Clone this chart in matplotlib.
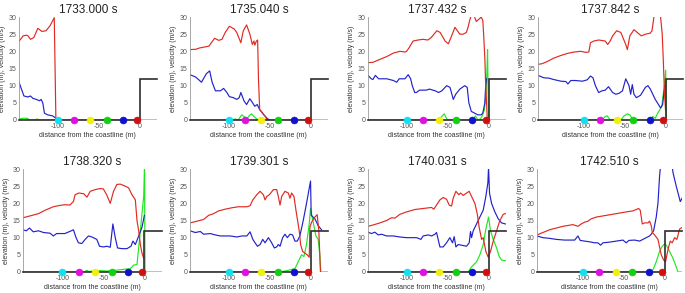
import matplotlib
matplotlib.use('Agg')
import matplotlib.pyplot as plt

plt.rcParams['font.family'] = ['Liberation Sans', 'DejaVu Sans']
plt.rcParams['axes.unicode_minus'] = False

# snapshot times (s)
times = ['1733.000 s', '1735.040 s', '1737.432 s', '1737.842 s',
         '1738.320 s', '1739.301 s', '1740.031 s', '1742.510 s']

# gauge positions along the profile (m) and their colours
gauge_x = [-100, -80, -60, -40, -20, -3]
gauge_colours = ['#10e0f0', '#e010e0', '#f0f010', '#10d010', '#1010d0', '#d01010']

# coastal profile (m): flat sea bed, then a 12 m wall at the coastline
wall_x = [0, 0, 21]
wall_y = [0, 12, 12]

# red, blue and green curves for each snapshot, as (distance, value) pairs
red_1 = [(-147, 22.9), (-142, 24.5), (-138, 24.7), (-136, 24.5), (-133, 23.5), (-129, 24.0),
         (-124, 26.7), (-119, 25.8), (-114, 26.0), (-109, 27.5), (-104, 29.8), (-103, 15.0),
         (-102, 0.0)]
blue_1 = [(-147, 11.0), (-141, 7.0), (-136, 6.7), (-133, 7.0), (-130, 6.3), (-126, 6.0),
          (-122, 5.6), (-120, 6.0), (-118, 5.0), (-116, 2.0), (-112, 1.5), (-106, 1.2),
          (-102, 0.5), (-100, 0.0)]
green_1 = [(-147, 0.3), (-143, 0.5), (-137, 0.5), (-134, 0.0), (-128, 0.0), (-125, 0.3),
           (-122, 0.0), (-100, 0.0), (21, 0.0)]

red_2 = [(-147, 20.5), (-140, 20.6), (-135, 21.0), (-124, 21.5), (-117, 23.8), (-112, 23.2),
         (-108, 23.5), (-104, 25.5), (-99, 27.3), (-93, 26.5), (-90, 25.5), (-85, 22.5),
         (-82, 26.0), (-78, 27.7), (-74, 25.0), (-71, 22.0), (-69, 23.0), (-68, 21.8),
         (-66, 23.0), (-64.5, 23.3), (-63.5, 12.0), (-62, 3.0), (-55, 1.0), (-53, 0.0)]
blue_2 = [(-147, 13.2), (-140, 12.5), (-133, 11.0), (-127, 13.5), (-123, 14.3), (-120, 11.0),
          (-116, 8.5), (-110, 8.5), (-106, 9.2), (-102, 8.0), (-99, 6.8), (-94, 6.5),
          (-90, 6.0), (-87, 6.5), (-85, 8.0), (-81, 5.5), (-78, 4.5), (-74, 6.2), (-72, 5.5),
          (-68, 4.0), (-65, 4.5), (-62, 3.0), (-60, 2.5), (-57, 1.5), (-53, 0.5), (-50, 0.0)]
green_2 = [(-147, 0.0), (-94, 0.0), (-92, 0.3), (-88, 0.0), (-86, 0.8), (-84, 1.5),
           (-81, 1.0), (-78, 0.3), (-75, 1.2), (-72, 1.8), (-69, 1.0), (-65, 0.2),
           (-62, 0.0), (21, 0.0)]

red_3 = [(-147, 16.7), (-141, 16.8), (-134, 17.5), (-124, 18.5), (-116, 19.5), (-108, 20.0),
         (-102, 19.8), (-100, 20.0), (-97, 21.0), (-92, 23.0), (-86, 23.3), (-80, 23.5),
         (-74, 23.3), (-70, 24.0), (-63, 26.0), (-59, 25.5), (-53, 23.0), (-49, 22.2),
         (-45, 24.5), (-41, 27.0), (-38, 26.0), (-35, 25.0), (-31, 25.0), (-27, 25.5),
         (-25, 27.0), (-23, 29.0), (-21, 30.5), (-19, 31.0), (-17, 30.0), (-15, 28.7),
         (-11, 29.5), (-9, 30.0), (-7, 29.0), (-6, 25.0), (-4.5, 18.0), (-3.5, 10.0),
         (-2.4, 5.0), (-1.5, 0.0)]
blue_3 = [(-147, 13.0), (-143, 12.0), (-141, 11.8), (-138, 13.0), (-134, 12.0), (-124, 12.0),
          (-116, 11.5), (-112, 11.0), (-109, 12.0), (-102, 12.0), (-98, 13.2), (-95, 12.0),
          (-93, 10.0), (-90, 8.0), (-88, 8.0), (-84, 8.7), (-76, 8.7), (-72, 9.0), (-65, 8.5),
          (-61, 8.0), (-57, 8.5), (-51, 10.0), (-47, 9.5), (-43, 6.0), (-40, 7.5), (-35, 9.0),
          (-29, 10.0), (-26, 9.5), (-24, 5.0), (-21, 2.5), (-17, 2.0), (-13, 1.5), (-9, 1.5),
          (-7, 2.0), (-4.5, 5.0), (-3.5, 10.0), (-2.5, 12.0)]
green_3 = [(-147, 0.0), (-63, 0.0), (-58, 0.8), (-54, 1.8), (-52, 0.8), (-50, 0.0),
           (-19, 0.0), (-16, 1.2), (-13, 0.0), (-10, 0.3), (-8, 1.0), (-5, 3.0), (-3, 8.0),
           (-1.8, 15.0), (-1.2, 20.5), (-0.5, 8.0), (0.2, 0.0), (21, 0.0)]

red_4 = [(-156, 16.2), (-151, 16.4), (-145, 17.0), (-137, 18.0), (-128, 18.8), (-120, 19.4),
         (-112, 19.8), (-104, 20.0), (-98, 19.7), (-94, 19.8), (-92, 22.5), (-88, 23.0),
         (-82, 23.3), (-74, 23.0), (-71, 22.0), (-68, 23.0), (-65, 24.5), (-60, 26.0),
         (-55, 25.5), (-49, 22.0), (-47, 20.5), (-44, 24.5), (-39, 26.3), (-35, 25.5),
         (-30, 24.5), (-25, 25.0), (-19, 25.3), (-17, 26.0), (-14.6, 30.0), (-12.6, 31.0),
         (-8, 31.0), (-6.5, 30.0), (-4.5, 25.0), (-3.3, 18.0), (-2.4, 12.0), (-1.5, 7.0),
         (-0.5, 3.0)]
blue_4 = [(-156, 13.0), (-149, 12.3), (-143, 12.2), (-137, 11.8), (-128, 11.3), (-122, 11.2),
          (-119.5, 10.5), (-116, 11.5), (-110, 11.5), (-102, 11.3), (-96, 11.7), (-92, 12.8),
          (-89, 12.3), (-86, 10.0), (-82, 8.0), (-78, 8.5), (-74, 8.7), (-70, 9.7), (-65, 8.0),
          (-61, 7.5), (-57, 7.8), (-53, 8.5), (-49, 12.0), (-45, 10.0), (-43, 7.5),
          (-41, 10.3), (-39, 7.5), (-36, 6.5), (-31, 7.2), (-25, 9.5), (-22, 10.0), (-19, 9.0),
          (-13, 6.0), (-6.5, 3.5), (-4, 4.5), (-2.4, 8.0), (-1.2, 10.0)]
green_4 = [(-156, 0.0), (-78, 0.0), (-74, 1.0), (-71.5, 1.2), (-68, 0.0), (-55, 0.0),
           (-51, 1.2), (-47, 1.8), (-44, 1.5), (-40, 0.0), (-19, 0.0), (-16, 1.0), (-13, 0.5),
           (-10, 2.0), (-5, 4.0), (-2, 10.0), (-0.3, 14.5), (0.5, 0.0), (21, 0.0)]

red_5 = [(-148, 15.8), (-140, 16.3), (-129, 17.0), (-121, 18.0), (-111, 19.0), (-103, 19.4),
         (-97, 19.6), (-91, 19.5), (-86.5, 20.5), (-84.5, 22.5), (-80, 23.0), (-74, 22.8),
         (-70, 21.8), (-66, 23.5), (-60, 24.0), (-54, 24.3), (-50, 24.2), (-46, 22.5),
         (-41.6, 20.0), (-37.6, 23.5), (-33.5, 25.5), (-29.4, 25.6), (-23.3, 25.0),
         (-19.2, 24.5), (-15.1, 22.5), (-11, 21.0), (-9, 15.0), (-6.9, 12.0), (-4.9, 8.0),
         (-2.9, 5.5), (-0.8, 4.0)]
blue_5 = [(-148, 12.3), (-144, 12.0), (-140, 12.8), (-135.5, 11.7), (-129, 12.0), (-123, 11.5),
          (-115, 11.3), (-111, 10.5), (-107, 11.2), (-97, 11.2), (-91, 11.8), (-86.5, 12.3),
          (-83.3, 10.0), (-80.4, 8.5), (-76.3, 8.3), (-72.2, 9.5), (-68.2, 10.5), (-64, 10.2),
          (-58, 9.5), (-54.7, 7.5), (-49.8, 7.3), (-45.7, 7.5), (-41.6, 7.2), (-38.4, 14.0),
          (-35.5, 10.0), (-32.7, 7.0), (-27.3, 6.8), (-21.2, 6.8), (-16.3, 7.5), (-13.9, 9.0),
          (-11, 8.0), (-6.9, 10.5), (-2.9, 13.0), (0, 16.5)]
green_5 = [(-148, 0.0), (-74, 0.0), (-70, 0.5), (-67, 0.0), (-65, 0.3), (-60, 0.0),
           (-55, 0.4), (-45, 0.3), (-35, 0.5), (-17, 1.0), (-13, 2.0), (-9, 2.2), (-7.8, 5.0),
           (-5.7, 10.0), (-2.9, 17.0), (-0.8, 22.0), (0.2, 31.0), (0.8, 0.0), (21, 0.0)]

red_6 = [(-147, 14.3), (-138.5, 14.8), (-130.4, 15.3), (-124.3, 16.5), (-118.2, 17.0),
         (-112.1, 17.8), (-104, 18.3), (-96, 18.7), (-88, 19.0), (-77.7, 19.0), (-73.7, 19.3),
         (-70.4, 21.0), (-65.6, 22.5), (-61.5, 23.5), (-57.5, 22.5), (-55.5, 21.0),
         (-53.4, 22.0), (-50.2, 22.5), (-45.3, 24.0), (-41.3, 24.0), (-39.3, 22.0),
         (-37.2, 19.5), (-35.2, 22.0), (-31.2, 23.5), (-27.1, 23.0), (-25.1, 21.5),
         (-23.1, 23.0), (-20.2, 22.0), (-17.8, 18.0), (-13.8, 12.0), (-12.1, 8.0),
         (-9.7, 6.0), (-6.9, 5.5), (-4, 5.0), (-1.6, 4.3), (-0.8, 13.0), (1.2, 14.5),
         (5.3, 16.0), (8.1, 16.7), (10.1, 12.0), (11.3, 5.0), (12.1, 0.0)]
blue_6 = [(-147, 12.0), (-140.5, 11.5), (-134.4, 11.8), (-130.4, 11.0), (-122.3, 11.2),
          (-116.2, 10.8), (-110.1, 10.5), (-97.9, 10.5), (-89.9, 10.2), (-83.8, 10.5),
          (-77.7, 10.5), (-73.7, 11.7), (-70.4, 9.5), (-67.6, 8.5), (-64.8, 7.5), (-61.5, 8.0),
          (-58.3, 9.5), (-55.5, 8.5), (-51.4, 10.0), (-47.4, 8.5), (-44.1, 7.0), (-41.3, 7.3),
          (-39.3, 8.0), (-37.2, 7.5), (-34, 10.0), (-31.2, 11.0), (-28.3, 10.0), (-25.1, 11.0),
          (-21.9, 10.8), (-19, 9.0), (-16.2, 9.0), (-13, 10.5), (-8.9, 15.0), (-4.9, 20.0),
          (0, 26.5), (0.8, 16.5), (5.3, 15.5), (9.3, 13.5), (13.4, 12.3)]
green_6 = [(-147, 0.0), (-37, 0.0), (-27, 0.5), (-19, 1.0), (-15, 3.0), (-11, 5.0),
           (-8.1, 4.5), (-4.9, 8.0), (-1.6, 14.0), (0, 18.5), (1.2, 17.0), (3.2, 14.5),
           (6.5, 10.5), (9.3, 9.5), (11.3, 5.0), (12.5, 0.0), (21, 0.0)]

red_7 = [(-147, 13.3), (-140.7, 13.7), (-132.5, 14.3), (-124.4, 15.0), (-118.3, 15.8),
         (-114.2, 15.7), (-108.1, 16.8), (-100, 17.5), (-89.8, 18.2), (-79.7, 18.5),
         (-69.5, 18.8), (-66.7, 18.3), (-63.4, 19.5), (-59.3, 21.0), (-55.3, 21.7),
         (-51.2, 21.2), (-48, 19.5), (-45.1, 19.2), (-43.1, 21.5), (-39.8, 23.5),
         (-36.2, 22.5), (-34.1, 23.0), (-30.9, 22.3), (-26.8, 23.0), (-23.6, 23.5),
         (-20.7, 22.0), (-16.7, 20.0), (-13.8, 17.0), (-11.4, 13.0), (-8.5, 9.5), (-6.5, 10.0),
         (-3.3, 6.0), (-0.4, 4.3), (2.4, 6.0), (5.7, 9.0), (9.8, 12.0), (13.8, 15.0),
         (17.9, 16.8), (20.5, 17.0)]
blue_7 = [(-147, 11.6), (-142.7, 11.2), (-138.6, 11.6), (-134.6, 10.8), (-130.5, 11.0),
          (-124.4, 10.5), (-116.3, 10.5), (-108.1, 10.2), (-100, 10.0), (-87.8, 10.0),
          (-82.5, 9.5), (-79.7, 10.5), (-73.6, 10.8), (-69.5, 10.5), (-65.4, 11.0),
          (-63.4, 11.5), (-59.3, 7.3), (-55.3, 7.3), (-51.2, 8.5), (-47.2, 10.0), (-43.9, 8.5),
          (-41.9, 10.3), (-39.8, 7.3), (-37, 8.0), (-32.9, 7.8), (-26.8, 7.5), (-23.6, 8.5),
          (-22, 11.8), (-20.7, 10.0), (-18.7, 12.0), (-14.6, 14.0), (-10.6, 16.0), (-6.5, 18.0),
          (-3.3, 22.0), (-0.8, 26.0), (0, 30.5), (1.2, 23.0), (3.7, 20.0), (7.7, 17.5),
          (11.8, 15.5), (15.9, 14.3), (20.5, 14.0)]
green_7 = [(-147, 0.0), (-75, 0.0), (-72, 0.3), (-69, 0.0), (-25, 0.0), (-20.7, 1.5),
           (-14.6, 3.0), (-10.6, 5.0), (-6.5, 8.0), (-3.3, 12.5), (0, 16.0), (2.4, 12.0),
           (5.7, 9.5), (9.8, 7.0), (13, 4.5), (15.9, 3.5), (20.5, 3.3)]

red_8 = [(-156, 10.8), (-148.8, 11.5), (-140.7, 12.3), (-132.5, 12.8), (-124.4, 13.3),
         (-112.2, 13.8), (-106.1, 13.3), (-102, 14.0), (-98, 14.5), (-93.9, 14.8),
         (-89.8, 15.5), (-83.7, 16.0), (-71.5, 16.5), (-59.3, 17.0), (-47.2, 17.5),
         (-39, 17.8), (-35, 18.2), (-32.1, 18.5), (-30.1, 18.0), (-27.6, 14.0), (-24.8, 14.3),
         (-20.7, 14.3), (-18.7, 14.8), (-16.7, 13.5), (-15.4, 11.5), (-12.6, 10.8),
         (-8.5, 9.5), (-4.5, 5.0), (-1.6, 3.5), (0.8, 3.0), (3.7, 6.5), (6.5, 9.0), (8.9, 8.5),
         (11.8, 10.0), (14.6, 9.5), (17.9, 12.5), (21, 13.0)]
blue_8 = [(-156, 10.5), (-148.8, 10.0), (-140.7, 9.8), (-132.5, 9.5), (-122.4, 9.3),
          (-110, 9.3), (-106.1, 10.5), (-103.3, 9.2), (-98, 9.0), (-91.9, 8.8), (-85.8, 8.5),
          (-81.7, 8.5), (-78.5, 7.8), (-75.6, 8.5), (-67.5, 8.7), (-59.3, 9.0), (-51.2, 9.3),
          (-47.2, 8.5), (-43.9, 9.2), (-37, 9.3), (-30.9, 9.0), (-26.8, 9.5), (-22.8, 10.0),
          (-18.7, 10.5), (-16.7, 11.0), (-13.8, 12.0), (-10.6, 16.0), (-8.5, 20.0),
          (-6.5, 28.0), (-5.3, 31.0), (8.9, 31.0), (9.8, 29.0), (13.8, 25.0), (17.1, 22.0),
          (18.7, 20.5), (21, 21.5)]
green_8 = [(-156, 0.0), (-16.7, 0.0), (-13.8, 1.0), (-10.6, 3.0), (-6.5, 6.0), (-3.3, 7.5),
           (0, 8.3), (2.4, 7.5), (5.7, 6.0), (9.8, 4.0), (13.8, 1.5), (15.9, 0.0), (21, 0.0)]

reds = [red_1, red_2, red_3, red_4, red_5, red_6, red_7, red_8]
blues = [blue_1, blue_2, blue_3, blue_4, blue_5, blue_6, blue_7, blue_8]
greens = [green_1, green_2, green_3, green_4, green_5, green_6, green_7, green_8]

# panel layout in pixels: (left edge, bottom edge, left x limit)
W, H = 685, 293
PX_PER_M = 0.82
layout = [(19, 120, -147), (190, 120, -147), (368, 120, -147), (538, 120, -156),
          (23, 272, -148), (190, 272, -147), (368, 272, -147), (537, 272, -156)]
XMAX = 21
AX_H = 103

fig = plt.figure(figsize=(W / 100, H / 100), dpi=100)


def xy(pairs):
    return [p[0] for p in pairs], [p[1] for p in pairs]


for i, (left, bottom, xmin) in enumerate(layout):
    width = (XMAX - xmin) * PX_PER_M
    ax = fig.add_axes([left / W, (H - bottom) / H, width / W, AX_H / H])

    for pairs, colour in ((greens[i], '#1ee81e'), (blues[i], '#2222cc'), (reds[i], '#e02a22')):
        x, y = xy(pairs)
        ax.plot(x, y, color=colour, lw=0.85, zorder=2)

    # sea bed and coastal wall
    ax.plot([xmin] + wall_x, [0] + wall_y, color='#2e2e2e', lw=1.2,
            solid_joinstyle='miter', clip_on=False, zorder=3)

    for gx, gc in zip(gauge_x, gauge_colours):
        ax.plot(gx, 0, 'o', ms=5, mfc=gc, mec=gc, mew=0.4, clip_on=False, zorder=4)

    ax.set_xlim(xmin, XMAX)
    ax.set_ylim(0, 30)
    ax.set_xticks([-100, -50, 0])
    ax.set_yticks(range(0, 31, 5))
    ax.tick_params(labelsize=5, colors='#555555', length=0, pad=2)
    for s in ('top', 'right', 'bottom'):
        ax.spines[s].set_visible(False)
    ax.spines['left'].set_color('#9a9a9a')
    ax.spines['left'].set_linewidth(0.6)
    ax.set_title(times[i], fontsize=8.5, color='#222222', pad=3)
    ax.set_xlabel('distance from the coastline (m)', fontsize=5, color='#333333', labelpad=1.5)
    ax.set_ylabel('elevation (m), velocity (m/s)', fontsize=5, color='#333333', labelpad=2)

fig.savefig('out.png', dpi=100)
